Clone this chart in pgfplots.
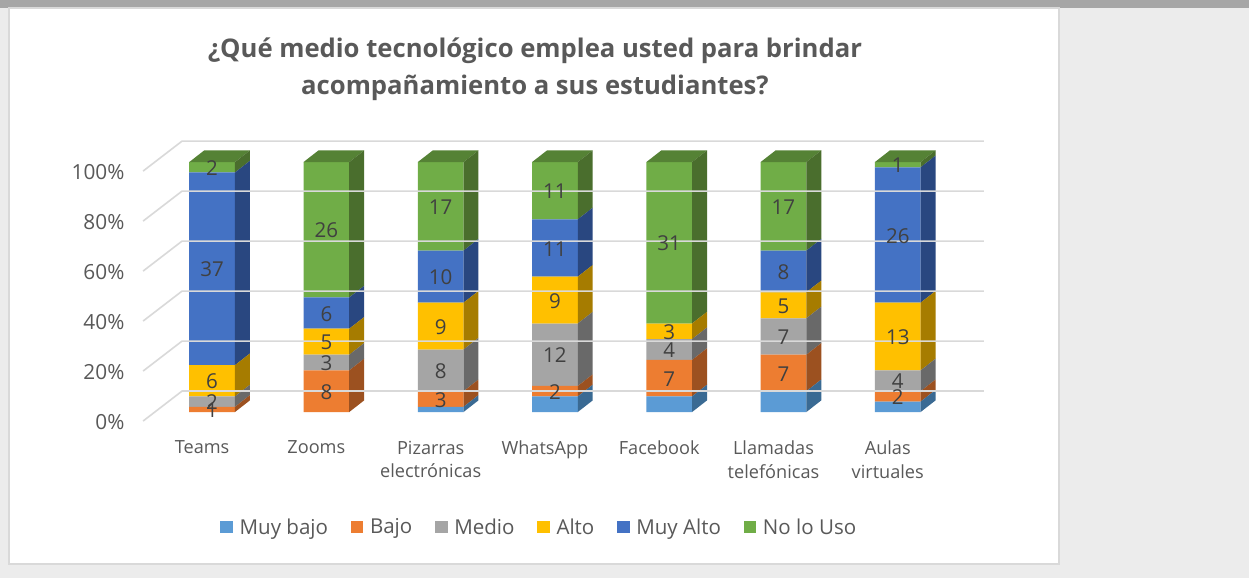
\documentclass[border=0pt]{standalone}
\usepackage{fontspec}
\setmainfont{Open Sans}
\usepackage{pgfplots}
\usepackage{pgfplotstable}
\pgfplotsset{compat=1.18}
% tick labels above main, where the white panel is drawn
\pgfplotsset{layers/capas/.define layer set={axis background,axis grid,axis ticks,axis lines,main,axis tick labels,axis descriptions,axis foreground}{}}

\definecolor{fondo}{HTML}{ECECEC}
\definecolor{franja}{HTML}{A6A6A6}
\definecolor{marco}{HTML}{D9D9D9}
\definecolor{texto}{HTML}{595959}
\definecolor{dato}{HTML}{404040}

\definecolor{muybajo}{HTML}{5B9BD5}
\definecolor{bajo}{HTML}{ED7D31}
\definecolor{medio}{HTML}{A5A5A5}
\definecolor{alto}{HTML}{FFC000}
\definecolor{muyalto}{HTML}{4472C4}
\definecolor{nouso}{HTML}{70AD47}
\definecolor{lado-muybajo}{HTML}{3A6A93}
\definecolor{lado-bajo}{HTML}{9C5120}
\definecolor{lado-medio}{HTML}{696969}
\definecolor{lado-alto}{HTML}{A67C00}
\definecolor{lado-muyalto}{HTML}{294780}
\definecolor{lado-nouso}{HTML}{4A6E2D}
\definecolor{tapa}{HTML}{558235}

% counts per category, each column adds up to 48
\pgfplotstableread{
k muybajo bajo medio alto muyalto nouso
0 0 1 2 6 37 2
1 0 8 3 5 6 26
2 1 3 8 9 10 17
3 3 2 12 9 11 11
4 3 7 4 3 0 31
5 4 7 7 5 8 17
6 2 2 4 13 26 1
}\datos

\def\px{0.75pt}
\def\semi{0.2}   % half bar width, in categories
\def\fx{0.131}   % depth of a bar, in categories
\def\fy{2.24}    % depth of a bar, in counts
\def\nombrebase{muybajo}
\def\fuentedato{\fontsize{15.4pt}{18pt}\selectfont}

\begin{document}
\begin{tikzpicture}
\fill[fondo] (0,0) rectangle (1249*\px,578*\px);
\fill[franja] (0,570.5*\px) rectangle (1249*\px,578*\px);
\fill[white,draw=marco,line width=2.2*\px] (9*\px,14*\px) rectangle (1059*\px,570*\px);
\begin{axis}[
  at={(0,0)}, anchor=south west,
  scale only axis, width=1249*\px, height=578*\px,
  xmin=-1.8548, xmax=9.0726, ymin=-31.87, ymax=79.1,
  clip=false, set layers=capas,
  ybar stacked, bar width=0.4,
  axis line style={draw=none}, major tick length=0pt,
  ytick={-1.73,7.87,17.47,27.07,36.67,46.27},
  yticklabels={0\%,20\%,40\%,60\%,80\%,100\%},
  yticklabel style={anchor=east, xshift=129*\px, yshift=-0.8*\px, text=texto, font=\fontsize{15.6pt}{18pt}\selectfont},
  xtick={0,...,6},
  xticklabels={Teams,Zooms,Pizarras\\electrónicas,WhatsApp,Facebook,Llamadas\\telefónicas,Aulas\\virtuales},
  xticklabel style={anchor=north, xshift=-10*\px, yshift=142*\px, align=center, text=texto, font=\fontsize{13.6pt}{17.8pt}\selectfont},
  title={¿Qué medio tecnológico emplea usted para brindar\\acompañamiento a sus estudiantes?},
  title style={at={(0.4283,0.867)}, anchor=center, align=center, text=texto,
    font=\fontsize{19.25pt}{27.8pt}\selectfont\bfseries},
  legend columns=-1,
  legend style={at={(0.432,0.0875)}, anchor=center, draw=none, fill=none,
    font=\fontsize{15.4pt}{18pt}\selectfont, text=texto,
    /tikz/every even column/.append style={column sep=20*\px},
    /tikz/every odd column/.append style={column sep=4*\px},
    legend cell align=left},
  legend image code/.code={\fill[#1] (0pt,-4.5pt) rectangle (9.5pt,4.5pt);},
  every axis plot/.append style={draw=none},
]
% back wall and floor lines, as (x,y) in categories and counts
\addplot[stack plots=false, sharp plot, forget plot, draw=marco, line width=1.6*\px] coordinates {(-0.6037,-1.73) (-0.2625,4.03) (6.754,4.03)};
\addplot[stack plots=false, sharp plot, forget plot, draw=marco, line width=1.6*\px] coordinates {(-0.6037,7.87) (-0.2625,13.63) (6.754,13.63)};
\addplot[stack plots=false, sharp plot, forget plot, draw=marco, line width=1.6*\px] coordinates {(-0.6037,17.47) (-0.2625,23.23) (6.754,23.23)};
\addplot[stack plots=false, sharp plot, forget plot, draw=marco, line width=1.6*\px] coordinates {(-0.6037,27.07) (-0.2625,32.83) (6.754,32.83)};
\addplot[stack plots=false, sharp plot, forget plot, draw=marco, line width=1.6*\px] coordinates {(-0.6037,36.67) (-0.2625,42.43) (6.754,42.43)};
\addplot[stack plots=false, sharp plot, forget plot, draw=marco, line width=1.6*\px] coordinates {(-0.6037,46.27) (-0.2625,52.03) (6.754,52.03)};

% right side of each segment, and the lid of each column
\pgfplotsforeachungrouped \col in {0,...,6}{
  \def\cum{0}
  \pgfmathsetmacro\xa{\col+\semi}
  \pgfmathsetmacro\xb{\xa+\fx}
  \pgfplotsforeachungrouped \serie in {muybajo,bajo,medio,alto,muyalto,nouso}{
    \pgfplotstablegetelem{\col}{\serie}\of\datos
    \let\val\pgfplotsretval
    \ifnum\val>0
      \pgfmathsetmacro\nuevo{\cum+\val}
      \pgfmathsetmacro\ybase{\cum+\fy}
      \pgfmathsetmacro\ysup{\nuevo+\fy}
      \edef\temp{\noexpand\addplot[stack plots=false, sharp plot, forget plot, draw=none, fill=lado-\serie]
        coordinates {(\xa,\cum) (\xb,\ybase) (\xb,\ysup) (\xa,\nuevo)} --cycle;}
      \temp
      \let\cum\nuevo
    \fi
  }
  \pgfmathsetmacro\xc{\col-\semi}
  \pgfmathsetmacro\xd{\xc+\fx}
  \pgfmathsetmacro\ysup{48+\fy}
  \edef\temp{\noexpand\addplot[stack plots=false, sharp plot, forget plot, draw=none, fill=tapa]
    coordinates {(\xc,48) (\xa,48) (\xb,\ysup) (\xd,\ysup)} --cycle;}
  \temp
}

\addplot[fill=muybajo] table[x=k,y=muybajo] {\datos};
\addlegendentry{Muy bajo}
\addplot[fill=bajo] table[x=k,y=bajo] {\datos};
\addlegendentry{Bajo}
\addplot[fill=medio] table[x=k,y=medio] {\datos};
\addlegendentry{Medio}
\addplot[fill=alto] table[x=k,y=alto] {\datos};
\addlegendentry{Alto}
\addplot[fill=muyalto] table[x=k,y=muyalto] {\datos};
\addlegendentry{Muy Alto}
\addplot[fill=nouso] table[x=k,y=nouso] {\datos};
\addlegendentry{No lo Uso}

% data labels, centred on each segment; Muy bajo has none
\pgfplotsforeachungrouped \col in {0,...,6}{
  \def\cum{0}
  \pgfplotsforeachungrouped \serie in {muybajo,bajo,medio,alto,muyalto,nouso}{
    \pgfplotstablegetelem{\col}{\serie}\of\datos
    \let\val\pgfplotsretval
    \pgfmathsetmacro\medioy{\cum+\val/2}
    \pgfmathsetmacro\cum{\cum+\val}
    \ifnum\val>0
      \ifx\serie\nombrebase\else
        \edef\temp{\noexpand\addplot[stack plots=false, sharp plot, forget plot, draw=none, on layer=axis foreground]
          coordinates {(\col,\medioy) (\col,\medioy)}
          node[pos=0, anchor=center, yshift=-0.8*\px, text=dato, font=\noexpand\fuentedato] {\val};}
        \temp
      \fi
    \fi
  }
}
\end{axis}
\end{tikzpicture}
\end{document}
